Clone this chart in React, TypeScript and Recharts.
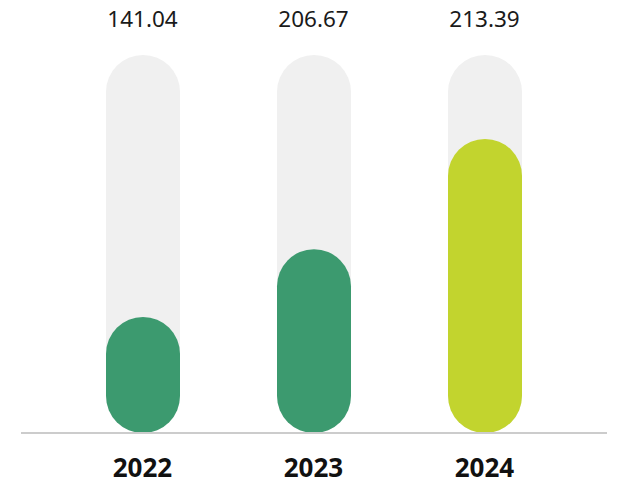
import React from "react";
import { BarChart, Bar, XAxis, YAxis, Cell } from "recharts";

const years = ["2022", "2023", "2024"];
const valueLabels = ["141.04", "206.67", "213.39"];
const fillLevels = [30.7, 48.6, 77.8];
const barColors = ["#3c9a6f", "#3c9a6f", "#c2d42e"];

const data = years.map((y, i) => ({ year: y, label: valueLabels[i], level: fillLevels[i] }));

export default function App() {
  return (
    <div style={{ position: "absolute", left: 0, top: 0 }}>
      <BarChart
        width={624}
        height={500}
        data={data}
        margin={{ top: 15, right: 17, left: 21, bottom: 0 }}
        barSize={74}
      >
        <YAxis hide domain={[0, 100]} />
        <XAxis
          xAxisId="top"
          orientation="top"
          dataKey="label"
          height={40}
          axisLine={false}
          tickLine={false}
          tickSize={0}
          tickMargin={28}
          padding={{ left: 36, right: 37 }}
          tick={{ fontSize: 22.5, fill: "#1a1a1a", fontFamily: "Noto Sans" }}
          interval={0}
        />
        <XAxis
          xAxisId="main"
          dataKey="year"
          height={67}
          axisLine={{ stroke: "#cccccc", strokeWidth: 2 }}
          tickLine={false}
          tickSize={0}
          tickMargin={26}
          padding={{ left: 36, right: 37 }}
          tick={{ fontSize: 26, fontWeight: 700, fill: "#111111", fontFamily: "Noto Sans" }}
          interval={0}
        />
        <Bar
          xAxisId="main"
          dataKey="level"
          radius={[37, 37, 37, 37]}
          background={{ fill: "#f0f0f0", radius: 37 }}
          isAnimationActive={false}
        >
          {data.map((d, i) => (
            <Cell key={d.year} fill={barColors[i]} />
          ))}
        </Bar>
      </BarChart>
    </div>
  );
}
